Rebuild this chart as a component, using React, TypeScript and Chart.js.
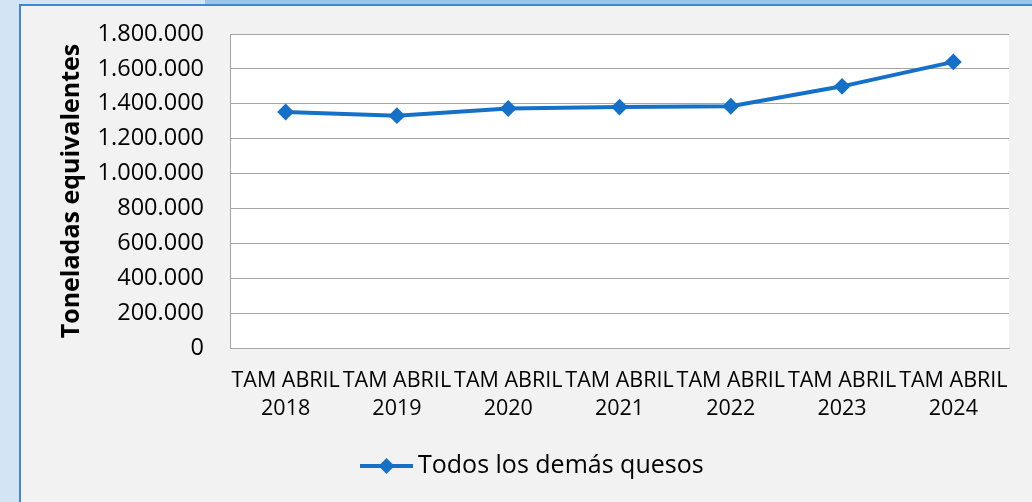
import React, { useEffect, useRef } from 'react';
import { Chart, registerables } from 'chart.js';

Chart.register(...registerables);

const categories: string[][] = [
  ['TAM ABRIL', '2018'],
  ['TAM ABRIL', '2019'],
  ['TAM ABRIL', '2020'],
  ['TAM ABRIL', '2021'],
  ['TAM ABRIL', '2022'],
  ['TAM ABRIL', '2023'],
  ['TAM ABRIL', '2024'],
];
const seriesName = 'Todos los demás quesos';
const seriesValues = [1353000, 1332000, 1373000, 1381000, 1386000, 1500000, 1640000];
const yAxisTitle = 'Toneladas equivalentes';
const yMin = 0;
const yMax = 1800000;
const yStep = 200000;

const FONT = "'Open Sans', 'Noto Sans', sans-serif";
const LINE_COLOR = '#1570c8';
const GRID_COLOR = '#a6a6a6';

const fmt = (v: number) => String(Math.round(v)).replace(/\B(?=(\d{3})+(?!\d))/g, '.');

const plotBg = {
  id: 'plotBg',
  beforeDraw(chart: any) {
    const { ctx, chartArea } = chart;
    ctx.save();
    ctx.fillStyle = '#ffffff';
    ctx.fillRect(chartArea.left, chartArea.top, chartArea.right - chartArea.left, chartArea.bottom - chartArea.top);
    ctx.restore();
  },
};

const customLegend = {
  id: 'customLegend',
  afterDraw(chart: any) {
    const { ctx } = chart;
    const ds = chart.data.datasets[0];
    const y = 466;
    const x0 = 360;
    const lineLen = 53;
    ctx.save();
    ctx.strokeStyle = ds.borderColor;
    ctx.lineWidth = ds.borderWidth;
    ctx.beginPath();
    ctx.moveTo(x0, y);
    ctx.lineTo(x0 + lineLen, y);
    ctx.stroke();
    const cx = x0 + lineLen / 2;
    const r = 8;
    ctx.fillStyle = ds.pointBackgroundColor;
    ctx.beginPath();
    ctx.moveTo(cx, y - r);
    ctx.lineTo(cx + r, y);
    ctx.lineTo(cx, y + r);
    ctx.lineTo(cx - r, y);
    ctx.closePath();
    ctx.fill();
    ctx.fillStyle = '#000000';
    ctx.font = `25px ${FONT}`;
    ctx.textBaseline = 'middle';
    ctx.textAlign = 'left';
    ctx.fillText(ds.label, x0 + lineLen + 5, y);
    ctx.restore();
  },
};

export default function App() {
  const ref = useRef<HTMLCanvasElement | null>(null);

  useEffect(() => {
    if (!ref.current) return;
    const chart = new Chart(ref.current, {
      type: 'line',
      data: {
        labels: categories as any,
        datasets: [
          {
            label: seriesName,
            data: seriesValues,
            borderColor: LINE_COLOR,
            backgroundColor: LINE_COLOR,
            borderWidth: 4,
            pointStyle: 'rectRot',
            pointRadius: 7,
            pointBorderWidth: 2,
            pointBackgroundColor: LINE_COLOR,
            pointBorderColor: LINE_COLOR,
            tension: 0,
            fill: false,
          } as any,
        ],
      },
      options: {
        responsive: false,
        animation: false,
        layout: { padding: { left: 0, top: 34, right: 23, bottom: 74 } },
        plugins: {
          legend: { display: false },
          tooltip: { enabled: false },
        },
        scales: {
          x: {
            offset: true,
            grid: { display: false, drawTicks: false },
            border: { display: true, color: GRID_COLOR, width: 1 },
            ticks: {
              autoSkip: false,
              maxRotation: 0,
              minRotation: 0,
              padding: 19,
              color: '#000000',
              font: { family: FONT, size: 21.5, lineHeight: 1.3 },
            },
            afterFit(s: any) {
              s.height = 80;
              s.paddingLeft = 0;
              s.paddingRight = 0;
            },
          },
          y: {
            min: yMin,
            max: yMax,
            grid: { color: GRID_COLOR, lineWidth: 1, drawTicks: false },
            border: { display: true, color: GRID_COLOR, width: 1 },
            ticks: {
              stepSize: yStep,
              padding: 26,
              color: '#000000',
              font: { family: FONT, size: 23.5 },
              callback: (v: any) => fmt(Number(v)),
            },
            title: {
              display: true,
              text: yAxisTitle,
              color: '#000000',
              font: { family: FONT, size: 25, weight: 'bold' },
              padding: { top: 57, bottom: 0 },
            },
            afterFit(s: any) {
              s.width = 230;
              s.paddingTop = 0;
              s.paddingBottom = 0;
            },
          },
        },
      },
      plugins: [plotBg, customLegend],
    });
    return () => chart.destroy();
  }, []);

  return (
    <div style={{ position: 'absolute', left: 0, top: 0, width: 1032, height: 502, background: '#d3e4f4', overflow: 'hidden' }}>
      <div style={{ position: 'absolute', left: 205, top: 0, width: 827, height: 4, background: '#9cc3e8' }} />
      <div
        style={{
          position: 'absolute',
          left: 19,
          top: 4,
          width: 1013,
          height: 498,
          background: '#f2f2f2',
          borderLeft: '2px solid #3f87d5',
          borderTop: '2px solid #3f87d5',
          boxSizing: 'border-box',
        }}
      />
      <canvas ref={ref} width={1032} height={502} style={{ position: 'absolute', left: 0, top: 0, width: 1032, height: 502 }} />
    </div>
  );
}
